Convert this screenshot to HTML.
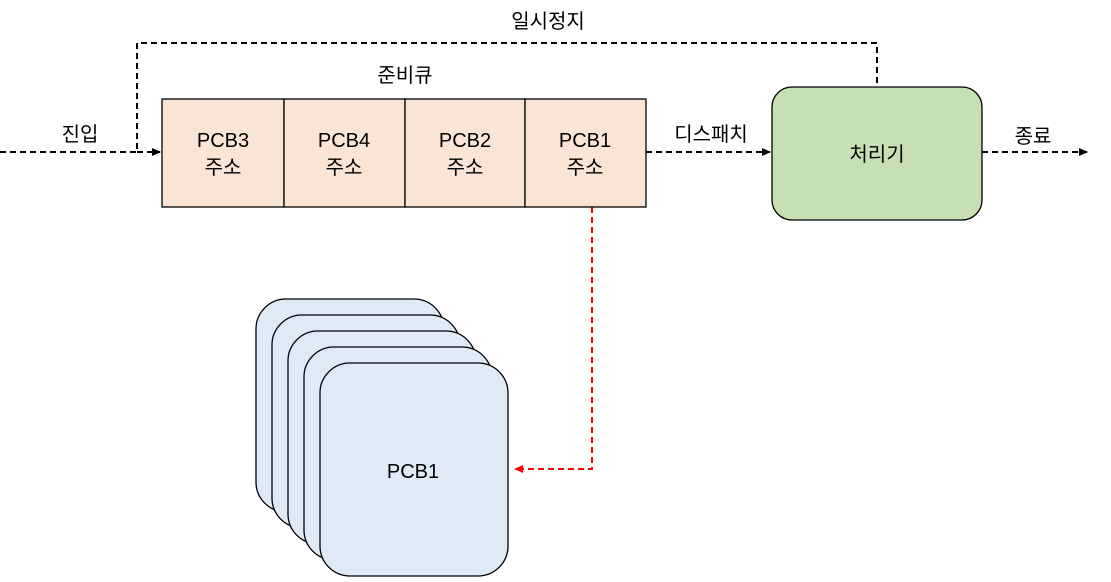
<!DOCTYPE html>
<html><head><meta charset="utf-8"><style>
body{margin:0;background:#fff;}
svg text{font-family:"Liberation Sans","Noto Sans CJK KR",sans-serif;font-size:20px;fill:#000;}
</style></head><body>
<svg width="1111" height="577" viewBox="0 0 1111 577" xmlns="http://www.w3.org/2000/svg">
<defs>
<marker id="a" markerWidth="10" markerHeight="10" refX="8" refY="5" orient="auto" markerUnits="userSpaceOnUse"><path d="M0,1 L9,5 L0,9 Z" fill="#000"/></marker>
<marker id="r" markerWidth="10" markerHeight="10" refX="8" refY="5" orient="auto" markerUnits="userSpaceOnUse"><path d="M0,1 L9,5 L0,9 Z" fill="#f00"/></marker>
</defs>
<g stroke="#000" stroke-width="2" stroke-dasharray="6,4" fill="none">
<path d="M0,152 H137 V43 H877 V87"/>
<path d="M137,152 H160" marker-end="url(#a)"/>
<path d="M646,152 H770" marker-end="url(#a)"/>
<path d="M982,152 H1087" marker-end="url(#a)"/>
</g>
<path d="M592,207 V469 H515" stroke="#f00" stroke-width="2" stroke-dasharray="6,4" fill="none" marker-end="url(#r)"/>
<g stroke="#000" stroke-width="1.3" fill="#fae4d6">
<rect x="162" y="99" width="122" height="108"/>
<rect x="284" y="99" width="121" height="108"/>
<rect x="405" y="99" width="120" height="108"/>
<rect x="525" y="99" width="121" height="108"/>
</g>
<rect x="772" y="87" width="210" height="133" rx="20" fill="#c6e0b4" stroke="#000" stroke-width="1.3"/>
<g stroke="#000" stroke-width="1.3" fill="#deeaf6">
<rect x="256" y="299" width="188" height="213" rx="30"/>
<rect x="272" y="315" width="188" height="213" rx="30"/>
<rect x="288" y="331" width="188" height="213" rx="30"/>
<rect x="304" y="347" width="188" height="213" rx="30"/>
<rect x="320" y="363" width="188" height="213" rx="30"/>
</g>
<g text-anchor="middle">
<text x="548" y="28">일시정지</text>
<text x="405" y="82">준비큐</text>
<text x="80" y="141">진입</text>
<text x="711" y="141">디스패치</text>
<text x="1033" y="143">종료</text>
<text x="223" y="147">PCB3</text><text x="223" y="174">주소</text>
<text x="344" y="147">PCB4</text><text x="344" y="174">주소</text>
<text x="465" y="147">PCB2</text><text x="465" y="174">주소</text>
<text x="585" y="147">PCB1</text><text x="585" y="174">주소</text>
<text x="877" y="161">처리기</text>
<text x="413" y="478">PCB1</text>
</g>
</svg>
</body></html>
